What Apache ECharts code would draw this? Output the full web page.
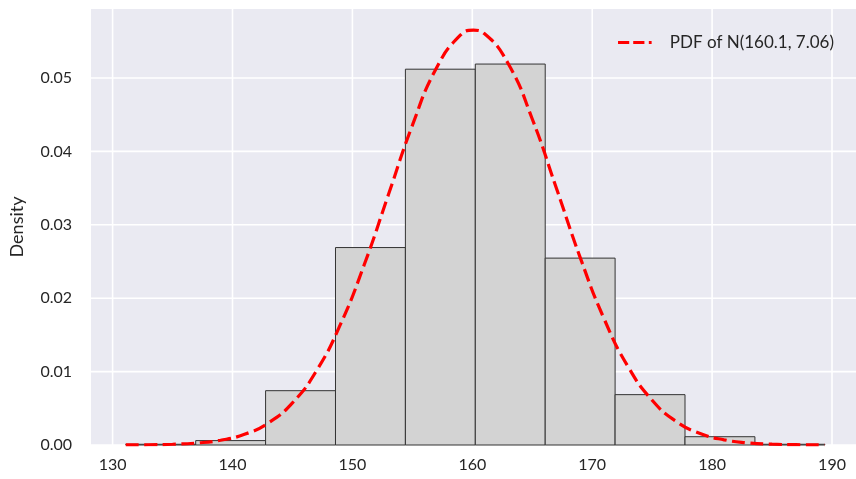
<!DOCTYPE html>
<html><head><meta charset="utf-8">
<script src="https://cdn.jsdelivr.net/npm/echarts@6/dist/echarts.min.js"></script>
<style>html,body{margin:0;padding:0;background:#fff}#c{width:856px;height:479px}</style>
</head><body><div id="c"></div>
<script>
// Histogram bin edges and densities
const binEdges = [131.1, 136.93, 142.76, 148.59, 154.42, 160.25, 166.08, 171.91, 177.74, 183.57, 189.4];
const binDensity = [0.0001, 0.0006, 0.0074, 0.0269, 0.0512, 0.0519, 0.02546, 0.00686, 0.00113, 0.0001];
// PDF curve sample points
const pdfX = [131.1,133,135,137,139,141,143,145,147,149,151,153,155,157,159,160.1,161,163,165,167,169,171,173,175,177,179,181,183,185,187,189,189.4];
const pdfY = [0.0000123,0.0000357,0.000102,0.000268,0.00065,0.001455,0.003008,0.00574,0.010104,0.016422,0.02462,0.03408,0.04354,0.05132,0.05583,0.05651,0.05605,0.05194,0.04442,0.03505,0.02553,0.01716,0.010646,0.006097,0.003219,0.00157,0.000706,0.000294,0.000113,0.0000398,0.000013,0.0000103];
// Tick values
const xTicks = [130, 140, 150, 160, 170, 180, 190];
const yTicks = [0.00, 0.01, 0.02, 0.03, 0.04, 0.05];
const legendName = 'PDF of N(160.1, 7.06)';

const font = 'Lato';
const chart = echarts.init(document.getElementById('c'), null, {renderer: 'canvas'});
const bins = binDensity.map((d, i) => [binEdges[i], binEdges[i + 1], d]);

chart.setOption({
  animation: false,
  textStyle: {fontFamily: font},
  grid: {left: 91, right: 0, top: 9, bottom: 34, show: true, backgroundColor: '#eaeaf2', borderWidth: 0},
  xAxis: {
    type: 'value', min: 128.2, max: 192.0,
    axisLine: {show: false}, axisTick: {show: false}, splitLine: {show: false},
    axisLabel: {customValues: xTicks, color: '#262626', fontSize: 16, fontFamily: font, margin: 12,
      formatter: v => String(Math.round(v))}
  },
  yAxis: {
    type: 'value', min: 0, max: 0.0594,
    name: 'Density', nameLocation: 'middle', nameGap: 65, nameRotate: 90,
    nameTextStyle: {color: '#262626', fontSize: 18, fontFamily: font},
    axisLine: {show: false}, axisTick: {show: false}, splitLine: {show: false},
    axisLabel: {customValues: yTicks, color: '#262626', fontSize: 16, fontFamily: font, margin: 19,
      formatter: v => v.toFixed(2)}
  },
  legend: {
    data: [{name: legendName, icon: 'path://M0,0H14V4H0Z M19,0H33V4H19Z M38.5,0H42V4H38.5Z'}],
    right: 17, top: 29, itemWidth: 42, itemHeight: 3.2, itemGap: 10,
    itemStyle: {color: '#ff0000', borderWidth: 0},
    textStyle: {fontSize: 17, color: '#262626', fontFamily: font, padding: [0, 0, 0, 9]}
  },
  series: [
    {
      type: 'custom', silent: true, z: 1,
      data: xTicks.map(v => [v]),
      renderItem: (params, api) => {
        const cs = params.coordSys;
        const p = api.coord([api.value(0), 0]);
        return {type: 'line', shape: {x1: p[0], y1: cs.y, x2: p[0], y2: cs.y + cs.height},
          style: {stroke: '#ffffff', lineWidth: 1.6}};
      }
    },
    {
      type: 'custom', silent: true, z: 1,
      data: yTicks.map(v => [128.2, v]),
      renderItem: (params, api) => {
        const cs = params.coordSys;
        const p = api.coord([api.value(0), api.value(1)]);
        return {type: 'line', shape: {x1: cs.x, y1: p[1], x2: cs.x + cs.width, y2: p[1]},
          style: {stroke: '#ffffff', lineWidth: 1.6}};
      }
    },
    {
      type: 'custom', z: 2, silent: true,
      data: bins,
      encode: {x: [0, 1], y: 2},
      renderItem: (params, api) => {
        const a = api.coord([api.value(0), api.value(2)]);
        const b = api.coord([api.value(1), 0]);
        return {type: 'rect', shape: {x: a[0], y: a[1], width: b[0] - a[0], height: b[1] - a[1]},
          style: {fill: '#d3d3d3', stroke: '#333333', lineWidth: 1}};
      }
    },
    {
      name: legendName, type: 'line', z: 3, smooth: true, symbol: 'none',
      data: pdfX.map((x, i) => [x, pdfY[i]]),
      lineStyle: {color: '#ff0000', width: 3.2, type: [13, 5.5]},
      itemStyle: {color: '#ff0000'}
    }
  ]
});
</script></body></html>
